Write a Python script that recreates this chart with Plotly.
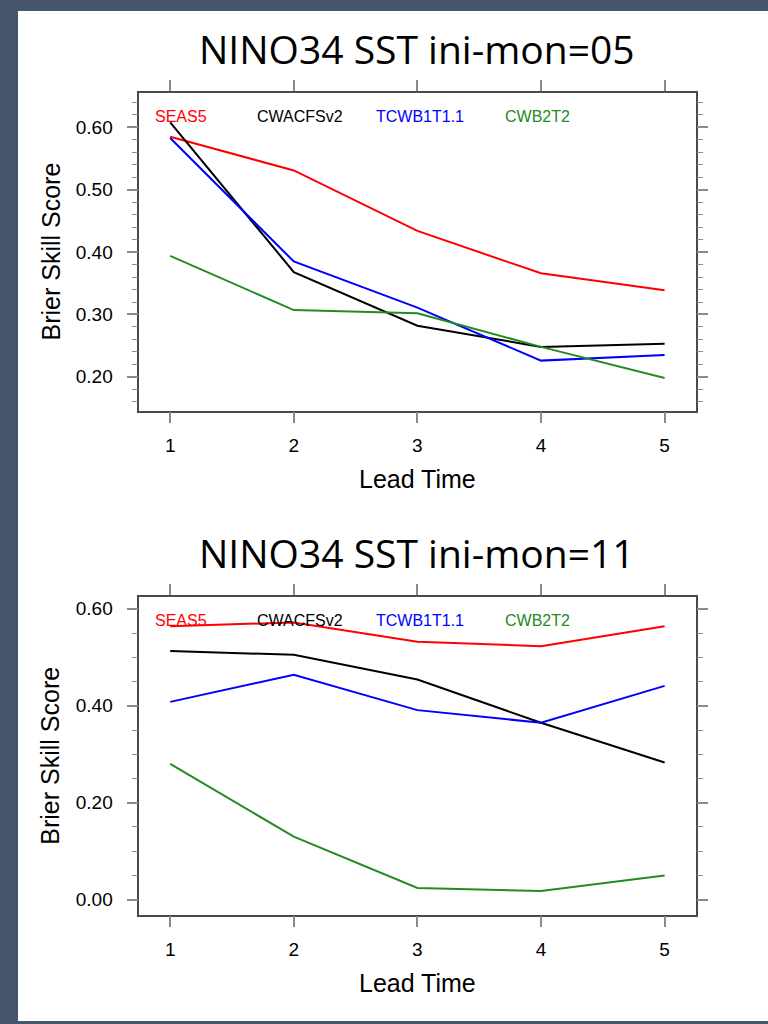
import plotly.graph_objects as go
from plotly.subplots import make_subplots

lead = [1, 2, 3, 4, 5]
models = ["SEAS5", "CWACFSv2", "TCWB1T1.1", "CWB2T2"]
colors = ["#ff0000", "#000000", "#0000ff", "#228b22"]

seas5_05 = [0.585, 0.531, 0.434, 0.366, 0.339]
cwacfs_05 = [0.608, 0.368, 0.282, 0.248, 0.253]
tcwb_05 = [0.583, 0.385, 0.311, 0.226, 0.235]
cwb2_05 = [0.394, 0.307, 0.302, 0.248, 0.198]

seas5_11 = [0.564, 0.572, 0.532, 0.523, 0.564]
cwacfs_11 = [0.513, 0.505, 0.454, 0.365, 0.283]
tcwb_11 = [0.408, 0.464, 0.391, 0.365, 0.441]
cwb2_11 = [0.280, 0.130, 0.024, 0.018, 0.050]

titles = ["NINO34 SST ini-mon=05", "NINO34 SST ini-mon=11"]
xlabel = "Lead Time"
ylabel = "Brier Skill Score"

W, H = 768, 1024
fig = go.Figure()

panels = [
    dict(series=[seas5_05, cwacfs_05, tcwb_05, cwb2_05], top=92.5, bot=410.5,
         yrange=[0.146, 0.656], dtick=0.1, minor=0.02, xa="x", ya="y"),
    dict(series=[seas5_11, cwacfs_11, tcwb_11, cwb2_11], top=596.7, bot=914.7,
         yrange=[-0.031, 0.625], dtick=0.2, minor=0.05, xa="x2", ya="y2"),
]

left, right = 139.3, 695.5
frame_col = "#4a4a4a"
tick_col = "#8a8a8a"
tickfont = dict(family="Liberation Sans, Arial, sans-serif", size=19, color="#000")

annotations = []
for i, p in enumerate(panels):
    for name, vals, c in zip(models, p["series"], colors):
        fig.add_trace(go.Scatter(x=lead, y=vals, mode="lines", name=name,
                                 line=dict(color=c, width=2),
                                 xaxis=p["xa"], yaxis=p["ya"], showlegend=False))
    suffix = "" if i == 0 else str(i + 1)
    dom_y = [1 - p["bot"] / H, 1 - p["top"] / H]
    fig.update_layout(**{
        "xaxis" + suffix: dict(
            domain=[left / W, right / W], range=[0.75, 5.25], anchor="y" + suffix,
            tickmode="linear", tick0=1, dtick=1, ticks="outside", ticklen=11,
            tickwidth=1.5, tickcolor=tick_col, showline=True, linecolor=frame_col,
            linewidth=1.5, mirror="ticks", showgrid=False, zeroline=False,
            tickfont=tickfont, ticklabelstandoff=6),
        "yaxis" + suffix: dict(
            domain=dom_y, range=p["yrange"], anchor="x" + suffix,
            tickmode="linear", tick0=0, dtick=p["dtick"], tickformat=".2f",
            ticks="outside", ticklen=11, tickwidth=1.5, tickcolor=tick_col,
            minor=dict(dtick=p["minor"], tick0=0, ticks="outside", ticklen=6,
                       tickwidth=1, tickcolor=tick_col, showgrid=False),
            showline=True, linecolor=frame_col, linewidth=1.5, mirror="ticks",
            showgrid=False, zeroline=False, tickfont=tickfont, ticklabelstandoff=10),
    })
    # title
    annotations.append(dict(text=titles[i], xref="paper", yref="paper",
                            x=417 / W, y=1 - (p["top"] - 44) / H, xanchor="center",
                            yanchor="middle", showarrow=False,
                            font=dict(family="Open Sans, Noto Sans, sans-serif",
                                      size=39, color="#000")))
    # x label
    annotations.append(dict(text=xlabel, xref="paper", yref="paper",
                            x=417 / W, y=1 - (p["bot"] + 68) / H, xanchor="center",
                            yanchor="middle", showarrow=False,
                            font=dict(family="Liberation Sans, Arial, sans-serif",
                                      size=25, color="#000")))
    # y label
    annotations.append(dict(text=ylabel, xref="paper", yref="paper",
                            x=50 / W, y=1 - ((p["top"] + p["bot"]) / 2) / H,
                            xanchor="center", yanchor="middle", textangle=-90,
                            showarrow=False,
                            font=dict(family="Liberation Sans, Arial, sans-serif",
                                      size=25, color="#000")))
    # legend labels
    lx = [153, 255, 374, 503]
    for name, c, x in zip(models, colors, lx):
        annotations.append(dict(text=name, xref="paper", yref="paper",
                                x=x / W, y=1 - (p["top"] + 24) / H,
                                xanchor="left", yanchor="middle", showarrow=False,
                                font=dict(family="Liberation Sans, Arial, sans-serif",
                                          size=16, color=c)))

fig.update_layout(
    width=W, height=H, margin=dict(l=0, r=0, t=0, b=0),
    paper_bgcolor="#45556b", plot_bgcolor="#ffffff",
    annotations=annotations,
    shapes=[dict(type="rect", xref="paper", yref="paper",
                 x0=18 / W, x1=1.0, y0=1 - 1021 / H, y1=1 - 11 / H,
                 fillcolor="#ffffff", line=dict(width=0), layer="below")],
)

fig.write_html("out.html")
